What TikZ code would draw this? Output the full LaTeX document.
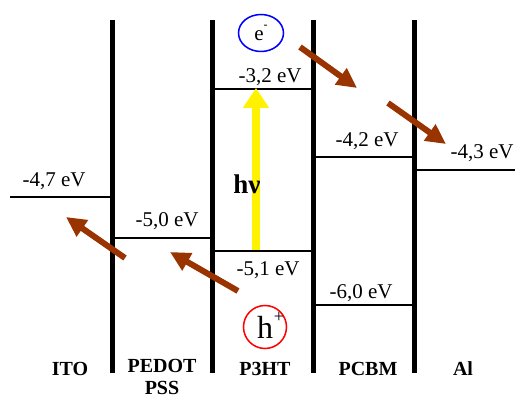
\documentclass[tikz,border=0pt]{standalone}
\usepackage{fontspec}
\setmainfont{Liberation Serif}
\usetikzlibrary{arrows.meta,shapes.geometric}
\definecolor{arrowbrown}{RGB}{153,51,0}
\begin{document}
\begin{tikzpicture}[x=1pt,y=-1pt,
  bar/.style={line width=5pt},
  level/.style={line width=1.6pt},
  lbl/.style={font=\fontsize{21}{24}\selectfont, inner sep=0pt},
  mat/.style={font=\fontsize{20}{22}\selectfont\bfseries, inner sep=0pt, align=center},
  flow/.style={draw=arrowbrown, line width=6pt, -{Triangle[length=20pt,width=19pt]}},
  photon/.style={draw=yellow, line width=8pt, -{Triangle[length=20pt,width=25pt]}},
]
\useasboundingbox (0,0) rectangle (515,403);
% bars
\coordinate (b1t) at (112,20); \coordinate (b1b) at (112,373);
\coordinate (b2t) at (212,20); \coordinate (b2b) at (212,373);
\coordinate (b3t) at (313,20); \coordinate (b3b) at (313,373);
\coordinate (b4t) at (414,20); \coordinate (b4b) at (414,373);
\draw[bar] (b1t) -- (b1b);
\draw[bar] (b2t) -- (b2b);
\draw[bar] (b3t) -- (b3b);
\draw[bar] (b4t) -- (b4b);
% levels
\coordinate (itoL) at (10,197); \coordinate (itoR) at (112,197);
\coordinate (pedL) at (112,238); \coordinate (pedR) at (212,238);
\coordinate (lumoL) at (212,89); \coordinate (lumoR) at (313,89);
\coordinate (homoL) at (212,251); \coordinate (homoR) at (313,251);
\coordinate (pcL) at (313,157); \coordinate (pcR) at (414,157);
\coordinate (pchL) at (313,305); \coordinate (pchR) at (414,305);
\coordinate (alL) at (414,170); \coordinate (alR) at (515,170);
\draw[level] (itoL) -- (itoR);
\draw[level] (pedL) -- (pedR);
\draw[level] (lumoL) -- (lumoR);
\draw[level] (homoL) -- (homoR);
\draw[level] (pcL) -- (pcR);
\draw[level] (pchL) -- (pchR);
\draw[level] (alL) -- (alR);
% level labels
\node[lbl] (t47) at (54,181) {-4,7 eV};
\node[lbl] (t50) at (167,221) {-5,0 eV};
\node[lbl] (t32) at (270,77) {-3,2 eV};
\node[lbl] (t51) at (268,270) {-5,1 eV};
\node[lbl] (t42) at (367,141) {-4,2 eV};
\node[lbl] (t60) at (361,293) {-6,0 eV};
\node[lbl] (t43) at (482,153) {-4,3 eV};
% photon
\coordinate (phS) at (256,250); \coordinate (phE) at (256,88);
\draw[photon] (phS) -- (phE);
\node[inner sep=0pt, font=\fontsize{27}{30}\selectfont\bfseries] (hv) at (247,184) {hν};
% carriers
\node[ellipse, draw=blue, line width=1.5pt, minimum width=45pt, minimum height=37pt, inner sep=0pt,
      font=\fontsize{21}{22}\selectfont] (el) at (261,33) {e\raisebox{0.55em}{\fontsize{12}{12}\selectfont -}};
\node[circle, draw=red, line width=1.5pt, minimum size=43pt, inner sep=0pt] (ho) at (265,327) {};
\node[inner sep=0pt, font=\fontsize{32}{34}\selectfont] (hh) at (265,327) {h};
\node[inner sep=0pt, font=\fontsize{18}{18}\selectfont] (hp) at (279,317) {+};
% transfer arrows
\coordinate (a1s) at (300,47); \coordinate (a1e) at (357,88);
\coordinate (a2s) at (388,103); \coordinate (a2e) at (446,144);
\coordinate (a3s) at (125,258); \coordinate (a3e) at (66,217);
\coordinate (a4s) at (238,291); \coordinate (a4e) at (170,252);
\draw[flow] (a1s) -- (a1e);
\draw[flow] (a2s) -- (a2e);
\draw[flow] (a3s) -- (a3e);
\draw[flow] (a4s) -- (a4e);
% material labels
\node[mat] (ito) at (70,369) {ITO};
\node[mat, anchor=north] (ped) at (162,359) {PEDOT\\PSS};
\node[mat] (p3ht) at (265,369) {P3HT};
\node[mat] (pcbm) at (368,369) {PCBM};
\node[mat] (al) at (463,369) {Al};
\end{tikzpicture}
\end{document}
